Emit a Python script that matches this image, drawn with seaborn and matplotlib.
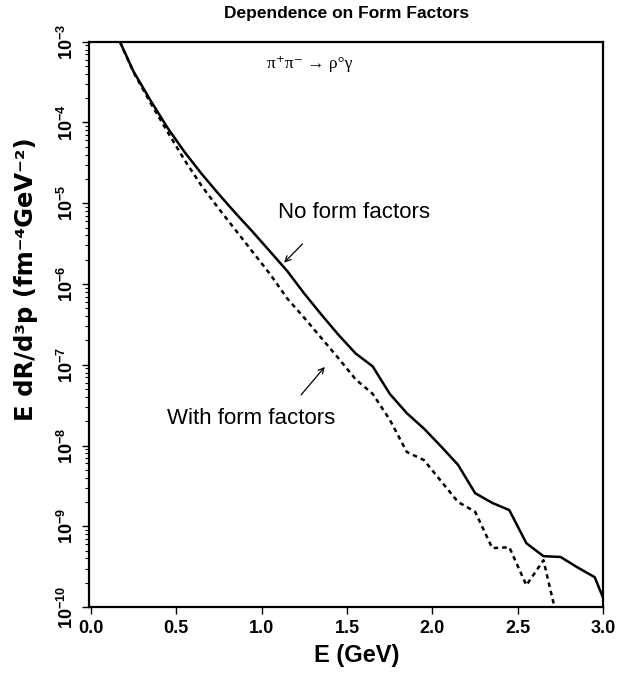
import numpy as np
import pandas as pd
import matplotlib
matplotlib.use("Agg")
import matplotlib.pyplot as plt
import seaborn as sns

# photon energy (GeV) and log10 of the rate
energy = [0.17, 0.25, 0.35, 0.45, 0.55, 0.65, 0.75, 0.85, 0.95, 1.05,
          1.15, 1.25, 1.35, 1.45, 1.55, 1.65, 1.75, 1.85, 1.95, 2.05,
          2.15, 2.25, 2.35, 2.45, 2.55, 2.65, 2.75, 2.85, 2.95, 3.0]
log_no_ff = [-3.00, -3.37, -3.73, -4.07, -4.37, -4.64, -4.89, -5.13, -5.36, -5.60,
             -5.84, -6.12, -6.38, -6.63, -6.86, -7.02, -7.36, -7.60, -7.79, -8.01,
             -8.24, -8.59, -8.71, -8.80, -9.21, -9.37, -9.38, -9.51, -9.63, -9.89]

energy_ff = [0.17, 0.25, 0.35, 0.45, 0.55, 0.65, 0.75, 0.85, 0.95, 1.05,
             1.15, 1.25, 1.35, 1.45, 1.55, 1.65, 1.75, 1.85, 1.95, 2.05,
             2.15, 2.25, 2.35, 2.45, 2.55, 2.65, 2.72]
log_with_ff = [-3.00, -3.38, -3.76, -4.12, -4.47, -4.79, -5.07, -5.34, -5.61, -5.88,
               -6.18, -6.42, -6.67, -6.92, -7.18, -7.36, -7.68, -8.08, -8.18, -8.44,
               -8.70, -8.82, -9.27, -9.26, -9.73, -9.42, -10.05]

x_ticks = [0.0, 0.5, 1.0, 1.5, 2.0, 2.5, 3.0]
y_exponents = [-10, -9, -8, -7, -6, -5, -4, -3]

sns.set_style("ticks")
plt.rcParams["font.family"] = ["Liberation Sans", "DejaVu Sans"]
plt.rcParams["mathtext.fontset"] = "custom"
plt.rcParams["mathtext.rm"] = "Liberation Sans:bold"
plt.rcParams["mathtext.bf"] = "Liberation Sans:bold"
plt.rcParams["mathtext.default"] = "bf"
for key in ["text.color", "axes.labelcolor", "axes.edgecolor", "xtick.color", "ytick.color"]:
    plt.rcParams[key] = "black"
plt.rcParams["axes.linewidth"] = 1.6

df1 = pd.DataFrame({"E": energy, "rate": 10.0 ** np.array(log_no_ff)})
df2 = pd.DataFrame({"E": energy_ff, "rate": 10.0 ** np.array(log_with_ff)})

fig = plt.figure(figsize=(6.37, 6.73), dpi=100)
ax = fig.add_axes([0.140, 0.098, 0.807, 0.840])

sns.lineplot(data=df1, x="E", y="rate", ax=ax, color="black", linewidth=1.8)
sns.lineplot(data=df2, x="E", y="rate", ax=ax, color="black", linewidth=1.8,
             linestyle=(0, (1.8, 1.6)))

ax.set_yscale("log")
ax.set_xlim(-0.01, 3.0)
ax.set_ylim(1e-10, 1e-3)

ax.set_xticks(x_ticks)
ax.set_xticklabels([f"{t:.1f}" for t in x_ticks], fontsize=13, fontweight="bold")
ax.set_yticks([10.0 ** e for e in y_exponents])
ax.set_yticklabels([r"$10^{%d}$" % e for e in y_exponents],
                   rotation=90, va="center", fontsize=13)
ax.yaxis.set_minor_locator(matplotlib.ticker.LogLocator(base=10, subs=np.arange(2, 10)))
ax.yaxis.set_minor_formatter(matplotlib.ticker.NullFormatter())
ax.tick_params(axis="both", which="major", direction="out", length=5, width=1.0, pad=4)
ax.tick_params(axis="y", which="minor", direction="out", length=3, width=0.8)
ax.tick_params(axis="x", which="minor", bottom=False)

ax.set_xlabel("E (GeV)", fontsize=17, fontweight="bold")
ax.xaxis.set_label_coords(0.52, -0.066)
ax.set_ylabel("E dR/d³p (fm⁻⁴GeV⁻²)", fontsize=17.5, fontweight="bold",
              family=["DejaVu Sans"])
ax.yaxis.set_label_coords(-0.099, 0.58)
ax.set_title("Dependence on Form Factors", fontsize=12.5, fontweight="bold", pad=17)

ax.text(1.28, 10 ** -3.28, "π⁺π⁻ → ρ°γ", ha="center", va="center", fontsize=12.5,
        family=["Liberation Serif", "DejaVu Serif"])

ax.annotate("", xy=(1.12, 10 ** -5.76), xytext=(1.25, 10 ** -5.48),
            arrowprops=dict(arrowstyle="->", color="black", lw=0.9))
ax.text(1.54, 10 ** -5.11, "No form factors", ha="center", va="center", fontsize=16)

ax.annotate("", xy=(1.38, 10 ** -7.0), xytext=(1.22, 10 ** -7.40),
            arrowprops=dict(arrowstyle="->", color="black", lw=0.9))
ax.text(0.94, 10 ** -7.66, "With form factors", ha="center", va="center", fontsize=16)

fig.savefig("out.png", dpi=100)
